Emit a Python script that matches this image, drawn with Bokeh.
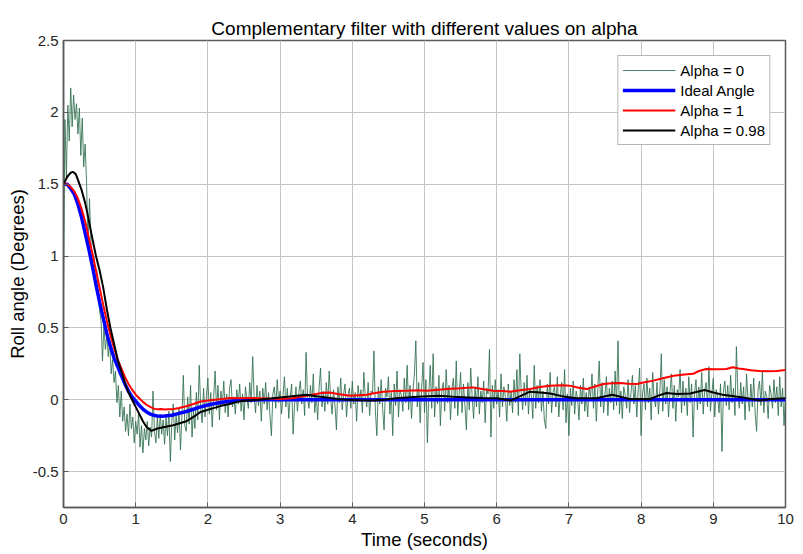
from bokeh.plotting import figure
from bokeh.models import FixedTicker, NumeralTickFormatter, Range1d
from bokeh.embed import file_html
from bokeh.resources import INLINE

# ---------------- data ----------------
# Alpha = 0 (accelerometer only), sampled every 0.02 s from t = 0
green_dt = 0.02
green_vals = [
    0.75, 1.95, 1.55, 2.05, 1.80, 2.17, 1.90, 2.12, 1.95, 2.06,
    1.85, 2.03, 1.70, 1.96, 1.62, 1.78, 1.50, 1.05, 1.40, 1.10,
    0.95, 1.00, 0.82, 0.90, 0.76, 0.62, 0.55, 0.27, 0.52, 0.35,
    0.45, 0.30, 0.41, 0.18, 0.28, 0.12, 0.20, -0.02, 0.10, -0.12,
    0.06, -0.15, -0.05, -0.22, -0.10, -0.25, -0.03, -0.20, -0.12, -0.30,
    -0.15, -0.24, -0.10, -0.33, -0.18, -0.37, -0.20, -0.28, -0.15, -0.32,
    -0.19, -0.26, 0.06, -0.22, -0.30, -0.12, -0.27, -0.10, -0.24, -0.14,
    -0.31, -0.12, -0.25, -0.08, -0.43, -0.15, -0.03, -0.28, -0.11, -0.23,
    -0.06, -0.35, -0.12, 0.17, -0.18, -0.22, 0.02, -0.17, 0.10, -0.26,
    -0.08, -0.20, 0.05, -0.14, 0.24, -0.06, -0.16, 0.08, -0.12, 0.03,
    0.15, -0.10, 0.05, -0.19, 0.02, 0.20, -0.07, 0.10, -0.14, 0.06,
    -0.04, 0.13, -0.09, 0.04, -0.12, 0.08, 0.14, -0.05, 0.02, -0.10,
    0.07, -0.03, 0.11, -0.08, 0.04, -0.14, 0.09, 0.01, -0.06, 0.12,
    -0.02, 0.30, 0.03, -0.09, 0.10, -0.04, 0.06, -0.15, 0.08, -0.03,
    0.12, -0.07, 0.05, -0.11, -0.25, 0.04, 0.09, -0.06, 0.14, -0.02,
    0.06, -0.10, 0.03, 0.16, -0.05, 0.08, -0.13, 0.02, 0.11, -0.24,
    -0.04, 0.09, -0.08, 0.05, 0.13, -0.03, 0.07, -0.11, 0.33, 0.02,
    -0.06, 0.10, -0.02, 0.18, -0.09, 0.04, -0.14, 0.08, 0.22, -0.05,
    0.06, -0.08, 0.12, -0.03, 0.20, 0.01, -0.10, 0.07, -0.04, -0.21,
    0.09, -0.02, 0.15, -0.07, 0.04, 0.11, -0.12, 0.03, 0.08, -0.06,
    0.13, -0.03, 0.05, -0.15, 0.10, -0.01, 0.07, -0.09, 0.19, 0.02,
    -0.05, 0.12, -0.11, 0.06, 0.04, 0.34, -0.08, -0.25, 0.09, -0.03,
    0.14, -0.06, -0.21, 0.08, 0.02, 0.16, -0.10, 0.05, -0.25, 0.11,
    -0.04, 0.20, -0.12, 0.07, 0.03, -0.08, 0.15, -0.02, 0.24, -0.07,
    0.10, -0.13, 0.06, 0.18, 0.41, -0.05, 0.12, -0.16, 0.08, 0.26,
    -0.09, 0.14, -0.30, 0.05, 0.24, -0.06, 0.32, -0.12, 0.09, -0.03,
    0.17, -0.18, 0.06, 0.12, -0.08, 0.21, -0.02, 0.10, -0.14, 0.07,
    0.15, -0.06, 0.27, -0.11, 0.04, 0.19, -0.09, 0.11, -0.04, -0.21,
    0.12, -0.07, 0.22, 0.02, -0.13, 0.09, -0.05, 0.16, -0.10, 0.06,
    -0.02, 0.13, -0.16, 0.08, 0.04, 0.35, -0.26, 0.10, -0.06, 0.14,
    -0.03, 0.07, -0.12, 0.18, -0.05, 0.09, 0.02, -0.15, 0.11, -0.04,
    0.06, -0.09, 0.14, -0.02, 0.21, -0.11, 0.32, 0.05, -0.07, 0.12,
    -0.04, 0.17, -0.10, 0.08, 0.03, -0.13, 0.24, -0.06, 0.10, -0.02,
    0.14, -0.08, 0.06, -0.14, -0.20, 0.11, -0.03, 0.19, -0.09, 0.05,
    0.09, -0.05, 0.16, -0.12, 0.03, 0.12, -0.07, 0.21, -0.16, 0.04,
    -0.25, 0.08, -0.04, 0.13, -0.10, 0.06, 0.01, -0.14, 0.10, -0.03,
    0.15, -0.08, 0.05, -0.12, 0.09, 0.02, 0.18, -0.06, 0.11, -0.15,
    0.07, 0.27, -0.05, 0.12, -0.09, 0.04, 0.16, -0.11, 0.08, -0.02,
    0.13, -0.07, 0.20, -0.04, 0.41, -0.10, 0.06, -0.13, 0.09, 0.03,
    -0.06, 0.14, -0.09, 0.05, 0.17, -0.03, 0.10, -0.12, 0.07, 0.22,
    -0.25, 0.04, 0.11, -0.07, 0.15, -0.02, 0.08, -0.14, 0.19, 0.01,
    -0.05, 0.12, -0.10, 0.06, 0.32, -0.08, 0.14, -0.03, 0.09, -0.12,
    0.05, 0.18, -0.06, 0.10, -0.15, 0.07, 0.02, 0.21, -0.09, 0.13,
    -0.04, 0.08, -0.11, 0.16, -0.02, 0.11, -0.26, 0.05, 0.14, -0.07,
    0.09, -0.03, 0.19, -0.10, 0.06, 0.12, -0.05, 0.23, -0.08, 0.04,
    0.15, -0.12, 0.07, 0.02, -0.09, 0.11, -0.36, 0.06, 0.13, -0.04,
    0.10, -0.07, 0.17, -0.02, 0.08, -0.11, 0.37, 0.04, -0.06, 0.12,
    -0.03, 0.09, -0.14, 0.18, 0.01, -0.08, 0.11, -0.05, 0.15, -0.10,
    -0.22, 0.07, 0.13, -0.04, 0.20, -0.09, 0.06, 0.02, -0.13, 0.10,
    0.04, -0.06, 0.14, -0.02, 0.09, -0.11, 0.16, -0.05, 0.08, -0.18,
    0.03,
]

# Ideal angle
ideal_t = [0, 0.05, 0.1, 0.15, 0.2, 0.25, 0.3, 0.35, 0.4, 0.45, 0.5, 0.55, 0.6,
           0.65, 0.7, 0.75, 0.8, 0.85, 0.9, 0.95, 1.0, 1.05, 1.1, 1.15, 1.2,
           1.25, 1.3, 1.35, 1.4, 1.5, 1.6, 1.7, 1.8, 1.9, 2.0, 2.1, 2.2, 2.3,
           2.4, 2.5, 2.7, 3.0, 10.0]
ideal_v = [1.50, 1.50, 1.47, 1.43, 1.36, 1.27, 1.16, 1.05, 0.93, 0.80, 0.68,
           0.57, 0.46, 0.37, 0.29, 0.23, 0.17, 0.11, 0.06, 0.02, -0.01, -0.04,
           -0.065, -0.085, -0.10, -0.108, -0.113, -0.115, -0.114, -0.108,
           -0.095, -0.082, -0.066, -0.05, -0.037, -0.026, -0.017, -0.01,
           -0.006, -0.003, -0.001, 0.0, 0.0]

# Alpha = 1 (gyro only)
red_t = [0, 0.05, 0.1, 0.15, 0.2, 0.25, 0.3, 0.35, 0.4, 0.45, 0.5, 0.55, 0.6,
         0.65, 0.7, 0.75, 0.8, 0.85, 0.9, 0.95, 1.0, 1.05, 1.1, 1.15, 1.2,
         1.25, 1.3, 1.35, 1.4, 1.45, 1.5, 1.55, 1.6, 1.7, 1.8, 1.9, 2.0, 2.1,
         2.2, 2.3, 2.44, 2.6, 2.72, 2.85, 3.0, 3.18, 3.3, 3.37, 3.5, 3.6,
         3.69, 3.8, 3.97, 4.1, 4.2, 4.3, 4.43, 4.6, 4.75, 4.9, 5.03, 5.15,
         5.31, 5.5, 5.67, 5.8, 5.95, 6.1, 6.18, 6.3, 6.46, 6.6, 6.74, 6.9,
         7.01, 7.12, 7.25, 7.35, 7.48, 7.6, 7.71, 7.82, 7.94, 8.05, 8.17,
         8.3, 8.45, 8.6, 8.72, 8.8, 8.9, 9.05, 9.18, 9.27, 9.35, 9.41, 9.52,
         9.64, 9.75, 9.88, 10.0]
red_v = [1.50, 1.50, 1.48, 1.45, 1.40, 1.33, 1.24, 1.13, 1.02, 0.90, 0.78,
         0.66, 0.55, 0.45, 0.36, 0.28, 0.22, 0.16, 0.11, 0.07, 0.035, 0.01,
         -0.015, -0.035, -0.05, -0.062, -0.067, -0.064, -0.068, -0.066,
         -0.067, -0.062, -0.058, -0.045, -0.03, -0.012, -0.005, 0.0, 0.005,
         0.012, 0.01, 0.012, 0.011, 0.008, 0.005, 0.01, 0.022, 0.028, 0.04,
         0.048, 0.051, 0.04, 0.028, 0.032, 0.035, 0.045, 0.056, 0.06, 0.063,
         0.066, 0.063, 0.068, 0.074, 0.08, 0.086, 0.075, 0.063, 0.06, 0.056,
         0.065, 0.074, 0.088, 0.098, 0.10, 0.098, 0.085, 0.074, 0.09, 0.11,
         0.114, 0.116, 0.112, 0.11, 0.122, 0.133, 0.15, 0.167, 0.175, 0.18,
         0.20, 0.214, 0.212, 0.214, 0.226, 0.218, 0.214, 0.205, 0.20, 0.198,
         0.20, 0.207]

# Alpha = 0.98 (complementary filter)
black_t = [0, 0.05, 0.1, 0.13, 0.17, 0.2, 0.25, 0.3, 0.35, 0.4, 0.45, 0.5,
           0.55, 0.6, 0.65, 0.7, 0.75, 0.8, 0.85, 0.9, 0.95, 1.0, 1.05, 1.1,
           1.15, 1.2, 1.22, 1.3, 1.4, 1.5, 1.6, 1.7, 1.8, 1.9, 2.0, 2.1, 2.2,
           2.3, 2.4, 2.5, 2.7, 2.9, 3.1, 3.37, 3.5, 3.64, 3.8, 3.92, 4.1, 4.3,
           4.45, 4.6, 4.9, 5.2, 5.4, 5.6, 5.8, 6.0, 6.2, 6.35, 6.46, 6.6, 6.74,
           6.9, 7.1, 7.38, 7.6, 7.84, 8.12, 8.25, 8.35, 8.5, 8.68, 8.88, 9.0,
           9.13, 9.41, 9.64, 9.8, 10.0]
black_v = [1.50, 1.55, 1.58, 1.586, 1.57, 1.53, 1.46, 1.37, 1.25, 1.12, 1.00,
           0.90, 0.78, 0.63, 0.50, 0.39, 0.28, 0.20, 0.12, 0.05, 0.0, -0.05,
           -0.10, -0.15, -0.19, -0.21, -0.216, -0.20, -0.19, -0.18, -0.165,
           -0.15, -0.12, -0.085, -0.07, -0.055, -0.04, -0.03, -0.015, -0.007,
           0.0, 0.01, 0.02, 0.035, 0.025, 0.016, 0.005, 0.0, -0.003, -0.005,
           0.0, 0.01, 0.02, 0.028, 0.02, 0.016, 0.012, 0.01, -0.005, 0.03,
           0.056, 0.05, 0.044, 0.025, 0.01, 0.01, 0.035, 0.005, 0.005, 0.03,
           0.047, 0.04, 0.044, 0.068, 0.05, 0.035, 0.016, -0.005, 0.005, 0.01]

x_ticks = [0, 1, 2, 3, 4, 5, 6, 7, 8, 9, 10]
y_ticks = [-0.5, 0, 0.5, 1, 1.5, 2, 2.5]

# ---------------- figure ----------------
FONT = "Liberation Sans"
TXT = "#262626"

p = figure(width=795, height=552, output_backend="svg", toolbar_location=None,
           x_range=Range1d(0, 10), y_range=Range1d(-0.75, 2.5),
           min_border_left=63, min_border_right=10, min_border_top=40,
           min_border_bottom=45,
           title="Complementary filter with different values on alpha")

p.title.align = "center"
p.title.text_font = FONT
p.title.text_font_size = "19px"
p.title.text_font_style = "normal"
p.title.text_color = "#000000"
p.title.standoff = 4

p.outline_line_color = "#5a5a5a"
p.outline_line_width = 1.5
p.background_fill_color = "white"

green_t = [round(i * green_dt, 2) for i in range(len(green_vals))]
p.line(green_t, green_vals, line_color="#2f6e4f", line_width=1, line_alpha=0.85,
       legend_label="Alpha = 0")
p.line(ideal_t, ideal_v, line_color="#0000ff", line_width=3.5,
       legend_label="Ideal Angle")
p.line(red_t, red_v, line_color="#ff0000", line_width=2,
       legend_label="Alpha = 1")
p.line(black_t, black_v, line_color="#000000", line_width=2,
       legend_label="Alpha = 0.98")

for ax in (p.xaxis[0], p.yaxis[0]):
    ax.axis_line_color = "#5a5a5a"
    ax.axis_line_width = 1.5
    ax.major_tick_in = 5
    ax.major_tick_out = 0
    ax.minor_tick_line_color = None
    ax.major_tick_line_color = "#5a5a5a"
    ax.major_label_text_font = FONT
    ax.major_label_text_font_size = "15px"
    ax.major_label_text_color = TXT
    ax.axis_label_text_font = FONT
    ax.axis_label_text_font_size = "18.5px"
    ax.axis_label_text_font_style = "normal"
    ax.axis_label_text_color = "#000000"

p.xaxis[0].ticker = FixedTicker(ticks=x_ticks)
p.yaxis[0].ticker = FixedTicker(ticks=y_ticks)
p.xaxis[0].formatter = NumeralTickFormatter(format="0.[0]")
p.yaxis[0].formatter = NumeralTickFormatter(format="0.[0]")
p.xaxis[0].axis_label = "Time (seconds)"
p.yaxis[0].axis_label = "Roll angle (Degrees)"
p.xaxis[0].major_label_standoff = 6
p.xaxis[0].axis_label_standoff = 2
p.yaxis[0].major_label_standoff = 5
p.yaxis[0].axis_label_standoff = 2

p.xgrid.ticker = FixedTicker(ticks=x_ticks)
p.ygrid.ticker = FixedTicker(ticks=y_ticks)
p.grid.grid_line_color = "#c4c4c4"
p.grid.grid_line_width = 1

leg = p.legend[0]
leg.location = "top_right"
leg.margin = 15
leg.padding = 4
leg.spacing = 0
leg.glyph_width = 53
leg.glyph_height = 20
leg.label_height = 20
leg.label_standoff = 5
leg.label_text_font = FONT
leg.label_text_font_size = "15px"
leg.label_text_color = "#000000"
leg.border_line_color = "#6e6e6e"
leg.border_line_width = 1.5
leg.background_fill_alpha = 1.0

open("out.html", "w").write(file_html(p, INLINE))
